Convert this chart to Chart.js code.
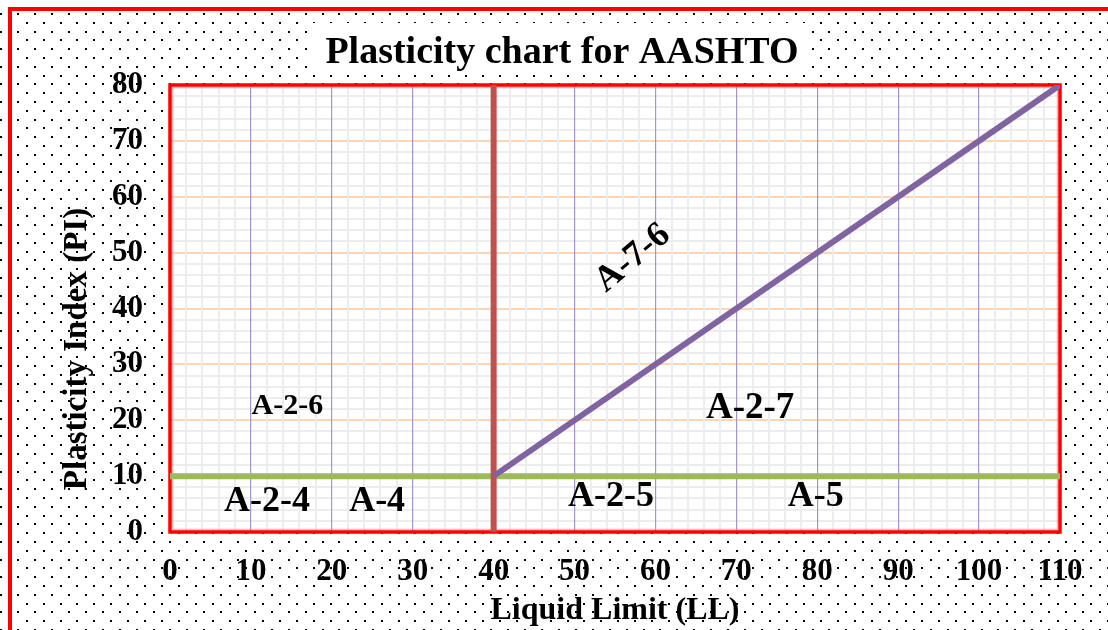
<!DOCTYPE html>
<html>
<head>
<meta charset="utf-8">
<script src="https://cdn.jsdelivr.net/npm/chart.js@4/dist/chart.umd.min.js"></script>
<style>
  html, body { margin: 0; padding: 0; background: #fff; }
  #wrap { width: 1108px; height: 630px; }
</style>
</head>
<body>
<div id="wrap"><canvas id="c" width="1108" height="630"></canvas></div>
<script>
// ---- chart text ----
const chartTitle = 'Plasticity chart for AASHTO';
const xTitle = 'Liquid Limit (LL)';
const yTitle = 'Plasticity Index (PI)';

// ---- axis ranges (LL on x, PI on y) ----
const llRange = [0, 110];
const piRange = [0, 80];
const labelStep = 10;   // labelled major divisions
const gridStep = 2;     // minor grid divisions

// ---- classification boundaries as [LL, PI] points ----
const piTenLine   = [[0, 10], [110, 10]];   // PI = 10
const llFortyLine = [[40, 0], [40, 80]];    // LL = 40
const slopeLine   = [[40, 10], [110, 80]];  // PI = LL - 30

// ---- soil group names and where each sits, in LL / PI units ----
const groupNames = ['A-2-6', 'A-2-4', 'A-4', 'A-2-5', 'A-5', 'A-2-7', 'A-7-6'];
const groupLL    = [14.5, 12.0, 25.6, 54.5, 79.8, 71.7, 57.2];
const groupPI    = [22.5, 5.5, 5.5, 6.3, 6.3, 22.2, 49.0];

// ---- styling ----
const SERIF = '"Liberation Serif", "Times New Roman", serif';
const groupStyle = {
  'A-2-6': { size: 30, angle: 0 },
  'A-2-4': { size: 36, angle: 0 },
  'A-4':   { size: 36, angle: 0 },
  'A-2-5': { size: 36, angle: 0 },
  'A-5':   { size: 36, angle: 0 },
  'A-2-7': { size: 37, angle: 0 },
  'A-7-6': { size: 36, angle: -40 }
};

const toPoints = arr => arr.map(p => ({ x: p[0], y: p[1] }));

// dotted page background, white plot area, outer frame
const backdrop = {
  id: 'backdrop',
  beforeDraw(chart) {
    const { ctx, width, height, chartArea: a } = chart;
    ctx.save();
    ctx.fillStyle = '#fff';
    ctx.fillRect(0, 0, width, height);
    ctx.fillStyle = '#000';
    const dx = 16.9, dy = 8.8;
    for (let r = 0; ; r++) {
      const y = 14 + r * dy;
      if (y > height + 2) break;
      const off = (r % 2) ? dx / 2 : 0;
      for (let x = 18.3 + off - dx; x < width + 2; x += dx) {
        ctx.fillRect(Math.round(x) - 1, Math.round(y) - 1, 2, 2);
      }
    }
    // outer red frame (top and left edges)
    ctx.fillStyle = '#ff0000';
    ctx.fillRect(8, 7, width - 8, 4);
    ctx.fillRect(8, 7, 4, height - 7);
    // plot area
    ctx.fillStyle = '#fff';
    ctx.fillRect(a.left, a.top, a.right - a.left, a.bottom - a.top);
    ctx.restore();
  },
  beforeDatasetsDraw(chart) {
    const { ctx, chartArea: a } = chart;
    ctx.save();
    ctx.strokeStyle = 'rgba(240,120,120,0.55)';
    ctx.lineWidth = 1.5;
    ctx.strokeRect(a.left + 2.5, a.top + 2.5, a.right - a.left - 5, a.bottom - a.top - 5);
    ctx.strokeStyle = '#ff0000';
    ctx.lineWidth = 3.5;
    ctx.strokeRect(a.left, a.top, a.right - a.left, a.bottom - a.top);
    ctx.restore();
  },
  afterDraw(chart) {
    const { ctx } = chart;
    ctx.save();
    // title box
    ctx.fillStyle = '#fff';
    ctx.fillRect(311, 23, 496, 51);
    ctx.fillStyle = '#000';
    ctx.font = 'bold 38px ' + SERIF;
    ctx.textAlign = 'center';
    ctx.textBaseline = 'alphabetic';
    ctx.fillText(chartTitle, 562, 63);
    // vertical axis title
    ctx.translate(77, 349);
    ctx.rotate(-Math.PI / 2);
    ctx.font = 'bold 33px ' + SERIF;
    ctx.textBaseline = 'middle';
    ctx.fillText(yTitle, 0, 0);
    ctx.restore();
  }
};

// soil group names placed through the chart scales
const groupLabels = {
  id: 'groupLabels',
  afterDatasetsDraw(chart) {
    const { ctx, scales: { x, y } } = chart;
    ctx.save();
    ctx.fillStyle = '#000';
    ctx.textAlign = 'center';
    ctx.textBaseline = 'middle';
    groupNames.forEach((name, i) => {
      const st = groupStyle[name];
      const px = x.getPixelForValue(groupLL[i]);
      const py = y.getPixelForValue(groupPI[i]);
      ctx.save();
      ctx.translate(px, py);
      ctx.rotate(st.angle * Math.PI / 180);
      ctx.font = 'bold ' + st.size + 'px ' + SERIF;
      ctx.fillText(name, 0, 0);
      ctx.restore();
    });
    ctx.restore();
  }
};

const tickFont = { family: SERIF, size: 31, weight: 'bold' };
const majorOrMinor = (major, minor) => c => (Math.round(c.tick.value) % labelStep === 0 ? major : minor);

new Chart(document.getElementById('c'), {
  type: 'line',
  data: {
    datasets: [
      { data: toPoints(slopeLine),   borderColor: '#8064a2', borderWidth: 6, pointRadius: 0, order: 0 },
      { data: toPoints(llFortyLine), borderColor: '#c0504d', borderWidth: 6, pointRadius: 0, order: 1 },
      { data: toPoints(piTenLine),   borderColor: '#9bbb59', borderWidth: 6, pointRadius: 0, order: 2 }
    ]
  },
  options: {
    responsive: false,
    animation: false,
    devicePixelRatio: 1,
    layout: { padding: { top: 85, right: 48, left: 0, bottom: 0 } },
    plugins: { legend: { display: false }, tooltip: { enabled: false }, title: { display: false } },
    scales: {
      x: {
        type: 'linear',
        min: llRange[0], max: llRange[1],
        afterFit(s) { s.height = 98; },
        border: { display: false },
        grid: {
          z: -1,
          drawTicks: false,
          color: majorOrMinor('#a594cc', '#ededed'),
          lineWidth: majorOrMinor(1.2, 2)
        },
        ticks: {
          stepSize: gridStep, autoSkip: false, maxRotation: 0, minRotation: 0,
          padding: 21, color: '#000', font: tickFont,
          callback: v => (Math.round(v) % labelStep === 0 ? String(v) : '')
        },
        title: {
          display: true, text: xTitle, color: '#000',
          font: { family: SERIF, size: 32, weight: 'bold' },
          padding: { top: 0, bottom: 0 }
        }
      },
      y: {
        type: 'linear',
        min: piRange[0], max: piRange[1],
        afterFit(s) { s.width = 170; },
        border: { display: false },
        grid: {
          z: -2,
          drawTicks: false,
          color: majorOrMinor('#fbd5b5', '#ededed'),
          lineWidth: 2
        },
        ticks: {
          stepSize: gridStep, autoSkip: false,
          padding: 27, color: '#000', font: tickFont,
          callback: v => (Math.round(v) % labelStep === 0 ? String(v) : '')
        },
        title: { display: false }
      }
    }
  },
  plugins: [backdrop, groupLabels]
});
</script>
</body>
</html>
